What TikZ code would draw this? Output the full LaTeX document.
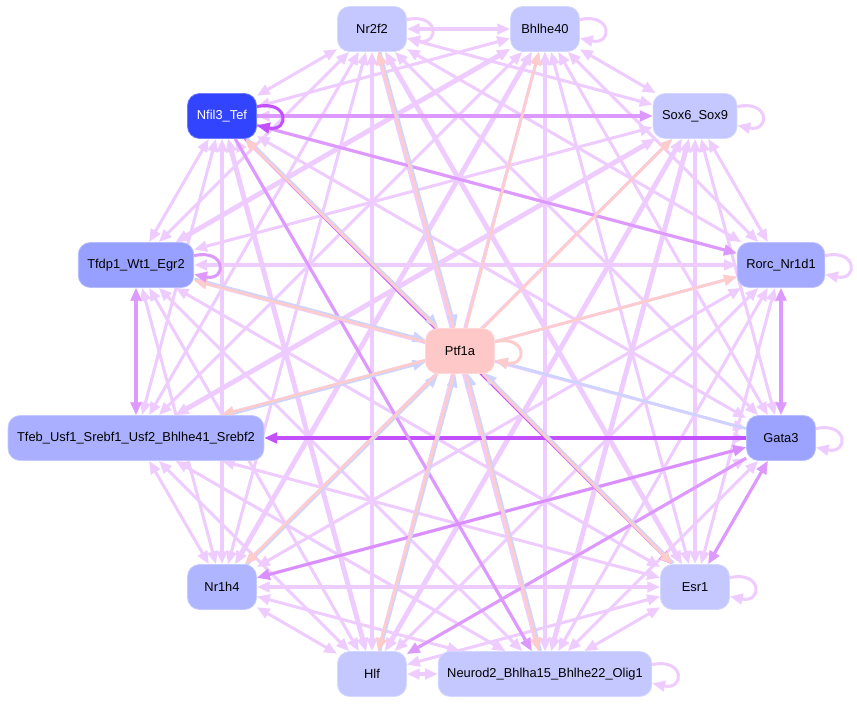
\documentclass[tikz,border=0pt]{standalone}
\usepackage{fontspec}
\setmainfont{Liberation Sans}
\usetikzlibrary{arrows.meta,backgrounds}
\definecolor{lav}{RGB}{238,204,255}
\definecolor{midlav}{RGB}{222,153,255}
\definecolor{darklav}{RGB}{195,80,255}
\definecolor{pinkline}{RGB}{255,204,204}
\definecolor{blueline}{RGB}{204,212,255}
\definecolor{nfilc}{RGB}{51,68,255}
\definecolor{tfdpc}{RGB}{152,160,255}
\definecolor{rorcc}{RGB}{164,170,255}
\definecolor{gatac}{RGB}{156,163,255}
\definecolor{tfebc}{RGB}{170,176,255}
\definecolor{nrhc}{RGB}{176,181,255}
\definecolor{palec}{RGB}{197,200,255}
\definecolor{ptfc}{RGB}{255,200,200}

\begin{document}
\begin{tikzpicture}
	[x=0.03cm,y=-0.03cm,
	 >={Triangle[length=11pt,width=9pt]},
	 tf/.style={fill=#1,draw=#1!70!white,line width=0.6pt,rounded corners=0.36cm,
	   minimum height=1.35cm,minimum width=2.07cm,inner xsep=7.7pt,
	   font=\fontsize{11}{13}\selectfont},
	 link/.style={draw=lav,line width=2.6pt,<->},
	 thicklink/.style={link,line width=4.2pt},
	 onelink/.style={draw=#1,line width=2.6pt,->},
	 twolink/.style={draw=#1,line width=2.6pt,<->},
	 selfloop/.style={draw=#1,line width=2.6pt,->}]
\useasboundingbox (0,0) rectangle (857,704);
% the twelve outer factors, clockwise from the top
\node[tf=palec] (g1) at (372,29) {Nr2f2};
\node[tf=palec] (g2) at (545,29) {Bhlhe40};
\node[tf=palec] (g3) at (695,116) {Sox6\_Sox9};
\node[tf=rorcc] (g4) at (781,265) {Rorc\_Nr1d1};
\node[tf=gatac] (g5) at (781,438) {Gata3};
\node[tf=palec] (g6) at (695,587) {Esr1};
\node[tf=palec] (g7) at (545,674) {Neurod2\_Bhlha15\_Bhlhe22\_Olig1};
\node[tf=palec] (g8) at (372,674) {Hlf};
\node[tf=nrhc] (g9) at (222,587) {Nr1h4};
\node[tf=tfebc] (g10) at (136,438) {Tfeb\_Usf1\_Srebf1\_Usf2\_Bhlhe41\_Srebf2};
\node[tf=tfdpc] (g11) at (136,265) {Tfdp1\_Wt1\_Egr2};
\node[tf=nfilc,text=white] (g12) at (222,116) {Nfil3\_Tef};
\node[tf=ptfc] (p) at (460,351) {Ptf1a};

\begin{pgfonlayer}{background}
\foreach \i in {1,...,11}
{
	\pgfmathtruncatemacro\k{\i+1}
	\foreach \j in {\k,...,12}
	\draw[link] (g\i) -- (g\j);
}
\foreach \a/\b in {2/7,1/7,2/11,3/10,3/7,2/9,1/6,3/8,12/8}
\draw[thicklink] (g\a) -- (g\b);
% coloured links
\draw[onelink=darklav] (g5) -- (g10);
\draw[onelink=darklav,line width=1.9pt] (g12) -- (g6);
\draw[onelink=midlav] (g12) -- (g4);
\draw[onelink=midlav] (g12) -- (g3);
\draw[onelink=midlav] (g12) -- (g7);
\draw[onelink=midlav] (g5) -- (g8);
\draw[twolink=midlav] (g11) -- (g10);
\draw[twolink=midlav] (g5) -- (g6);
\draw[twolink=midlav] (g5) -- (g4);
\draw[twolink=midlav!85!darklav] (g5) -- (g9);
% Ptf1a
\foreach \g/\sx/\sy in {g1/1.4/0.4,g12/1/1,g11/0.4/1.4,g10/0.4/-1.4,
	g9/1/-1,g8/1.4/-0.4,g7/1.4/0.4,g6/1/1}
\draw[onelink=blueline,line width=2.2pt,transform canvas={shift={(\sx pt,\sy pt)}}] (\g) -- (p);
\draw[onelink=blueline,line width=2.2pt] (g5) -- (p);
\foreach \g in {g1,g2,g3,g4,g6,g7,g8,g9,g10,g11,g12}
\draw[onelink=pinkline,line width=2.2pt] (p) -- (\g);
% self loops
\foreach \n/\c in {g1/lav,g2/lav,g3/lav,g4/lav,g5/lav,g6/lav,g7/lav,
	g11/midlav,g12/darklav,p/pinkline}
\draw[selfloop=\c] ([yshift=8pt]\n.east) .. controls +(28pt,6pt) and +(28pt,-6pt) .. ([yshift=-8pt]\n.east);
\end{pgfonlayer}
\end{tikzpicture}
\end{document}
